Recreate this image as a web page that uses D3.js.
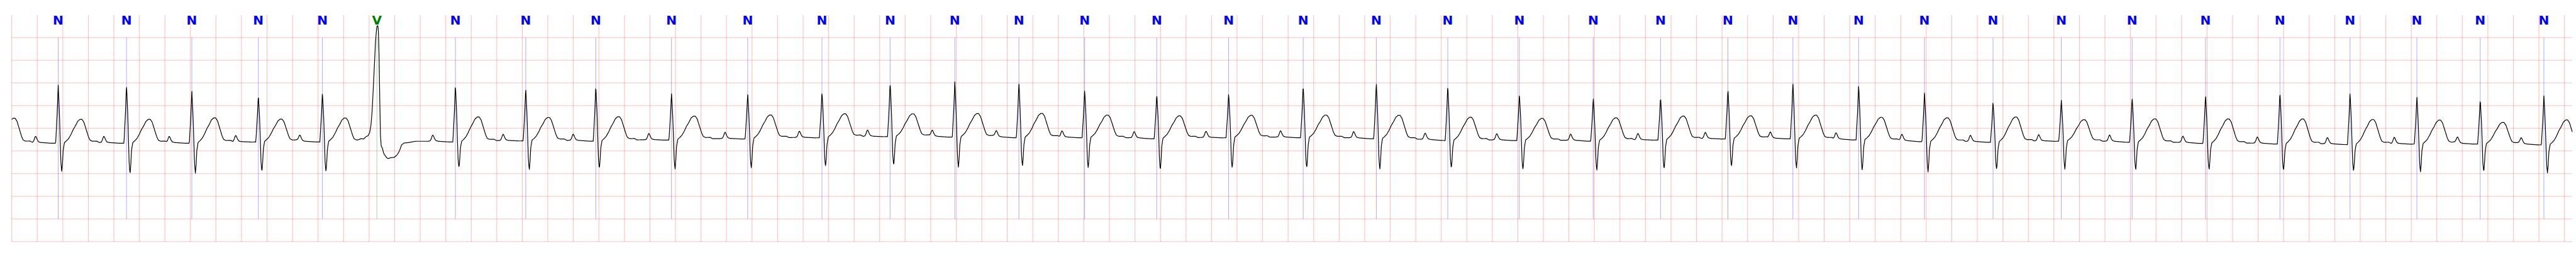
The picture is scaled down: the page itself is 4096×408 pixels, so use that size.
<!DOCTYPE html>
<html><head><meta charset="utf-8">
<script src="https://cdn.jsdelivr.net/npm/d3@7"></script>
<style>html,body{margin:0;padding:0;background:#fff;overflow:hidden}</style>
</head><body>
<svg id="chart" width="4096" height="408" viewBox="0 0 7522 750" preserveAspectRatio="none"></svg>
<script>
const duration = 20.061;          // seconds shown
const sampleRate = 360;           // Hz
const beatTimes = [-0.160, 0.364, 0.899, 1.411, 1.932, 2.434, 2.861, 3.476, 4.027, 4.576, 5.169, 5.766, 6.348,
  6.882, 7.389, 7.891, 8.406, 8.971, 9.534, 10.118, 10.691, 11.251, 11.812, 12.391, 12.918, 13.446,
  13.955, 14.470, 14.986, 15.523, 16.058, 16.613, 17.188, 17.771, 18.320, 18.844, 19.340, 19.839];
const beatLabels = ["", "N", "N", "N", "N", "N", "V", "N", "N", "N", "N", "N", "N",
  "N", "N", "N", "N", "N", "N", "N", "N", "N", "N", "N", "N", "N",
  "N", "N", "N", "N", "N", "N", "N", "N", "N", "N", "N", "N"];
const rAmp = [1.20, 1.276, 1.283, 1.134, 1.026, 1.081, 2.557, 1.256, 1.146, 1.214, 1.028, 0.992, 1.000,
  1.192, 1.214, 1.209, 1.041, 0.982, 0.975, 1.146, 1.229, 1.209, 1.025, 0.950, 0.940, 1.100,
  1.226, 1.207, 1.063, 0.889, 0.902, 0.982, 1.063, 1.136, 1.141, 1.038, 0.983, 1.075];
const sAmp = [-0.65, -0.644, -0.694, -0.680, -0.679, -0.679, 0, -0.590, -0.662, -0.625, -0.660, -0.668, -0.660,
  -0.654, -0.685, -0.642, -0.693, -0.706, -0.693, -0.693, -0.693, -0.630, -0.668, -0.667, -0.667, -0.635,
  -0.663, -0.692, -0.682, -0.623, -0.635, -0.630, -0.599, -0.605, -0.605, -0.633, -0.633, -0.642];
const tAmp = [0.535, 0.513, 0.513, 0.534, 0.488, 0.513, -0.383, 0.528, 0.503, 0.516, 0.504, 0.503, 0.504,
  0.491, 0.509, 0.521, 0.491, 0.484, 0.478, 0.491, 0.516, 0.499, 0.478, 0.491, 0.504, 0.493,
  0.516, 0.499, 0.517, 0.534, 0.466, 0.509, 0.529, 0.541, 0.534, 0.513, 0.470, 0.536];
const baseLevel = [0.190, 0.187, 0.187, 0.188, 0.216, 0.216, 0.216, 0.216, 0.240, 0.233, 0.258, 0.284, 0.309,
  0.334, 0.321, 0.309, 0.309, 0.284, 0.309, 0.309, 0.284, 0.246, 0.246, 0.233, 0.258, 0.284,
  0.284, 0.258, 0.220, 0.208, 0.233, 0.208, 0.182, 0.170, 0.157, 0.169, 0.169, 0.150];
const pAmp = 0.14;
// beat shapes: [ms from R, component, fraction of that component's amplitude]
const normalShape = [[-215,"0",0],[-199,"P",0.05],[-190,"P",0.35],[-183,"P",0.8],[-177,"P",1.0],[-171,"P",0.8],
  [-163,"P",0.4],[-153,"P",0.1],[-134,"0",0],[-54,"C",-0.015],[-20,"C",-0.015],[-8,"R",0.51],[0,"R",1],
  [10,"R",0.48],[16,"0",0],[21,"S",0.68],[28,"S",1],[34,"S",0.68],[39,"S",0.26],[49,"0",0],[64,"T",0.07],
  [82,"T",0.175],[100,"T",0.35],[118,"T",0.565],[135,"T",0.72],[153,"T",0.915],[171,"T",1.0],[186,"T",1.0],
  [201,"T",0.88],[213,"T",0.67],[225,"T",0.46],[237,"T",0.25],[249,"T",0.105],[267,"T",0.057],
  [303,"T",0.06],[322,"0",0]];
const ventricularShape = [[-148,"0",0],[-104,"R",0.0196],[-86,"R",0.039],[-68,"R",0.049],[-56,"R",0.078],
  [-47,"R",0.137],[-38,"R",0.25],[-30,"R",0.422],[-20,"R",0.649],[-11,"R",0.86],[-2,"R",0.978],
  [4,"R",1],[10,"R",0.986],[16,"R",0.794],[22,"R",0.372],[28,"R",0.047],[34,"T",0.31],[42,"T",0.36],
  [52,"T",0.68],[69,"T",0.88],[85,"T",1.0],[112,"T",0.94],[135,"T",0.93],[159,"T",0.78],[177,"T",0.55],
  [193,"T",0.21],[213,"T",0.10],[243,"T",0.08],[303,"0",0]];
const timeTicks = d3.range(0, 101).map(i => i * 0.2);
const voltTicks = [-2.0, -1.5, -1.0, -0.5, 0.0, 0.5, 1.0, 1.5, 2.0, 2.5];
const labelColors = {N: "#0000ff", V: "#008000"};

// ---- scales ----
const x = d3.scaleLinear().domain([0, duration]).range([34.3, 7511]);
const y = d3.scaleLinear().domain([-2, 3]).range([705.5, 43.8]);

// ---- build signal from beats ----
const baseScale = d3.scaleLinear().domain(beatTimes).range(baseLevel).clamp(true);
const beatFns = beatTimes.map((t0, i) => {
  const shape = beatLabels[i] === "V" ? ventricularShape : normalShape;
  const amp = {"0": 0, C: 1, P: pAmp, R: rAmp[i], S: sAmp[i], T: tAmp[i]};
  const f = d3.scaleLinear()
    .domain(shape.map(k => t0 + k[0] / 1000))
    .range(shape.map(k => k[2] * amp[k[1]]))
    .clamp(true);
  return {t0, f, lo: t0 + shape[0][0] / 1000, hi: t0 + shape[shape.length - 1][0] / 1000};
});
const nSamples = Math.round(duration * sampleRate);
const signal = d3.range(0, nSamples + 1).map(n => {
  const t = n / sampleRate;
  let v = baseScale(t);
  for (const b of beatFns) if (t >= b.lo && t <= b.hi) v += b.f(t);
  return {t, v};
});

// ---- draw ----
const svg = d3.select("#chart");
svg.append("rect").attr("width", 7522).attr("height", 750).attr("fill", "#fff");

const grid = svg.append("g").attr("stroke", "red").attr("stroke-opacity", 0.25).attr("stroke-width", 2);
grid.selectAll("line.v").data(timeTicks).join("line").attr("class", "v")
  .attr("x1", d => x(d)).attr("x2", d => x(d)).attr("y1", y(3)).attr("y2", y(-2));
grid.selectAll("line.h").data(voltTicks).join("line").attr("class", "h")
  .attr("x1", x(0)).attr("x2", x(duration)).attr("y1", d => y(d)).attr("y2", d => y(d));

const ann = beatTimes.map((t, i) => ({t, label: beatLabels[i]})).filter(d => d.label && d.t >= 0);
svg.append("g").selectAll("line").data(ann).join("line")
  .attr("x1", d => x(d.t)).attr("x2", d => x(d.t))
  .attr("y1", y(2.5)).attr("y2", y(-1.5))
  .attr("stroke", d => labelColors[d.label]).attr("stroke-opacity", 0.5).attr("stroke-width", 1.2);

svg.append("path").datum(signal)
  .attr("fill", "none").attr("stroke", "#000").attr("stroke-width", 2.2)
  .attr("stroke-linejoin", "round")
  .attr("d", d3.line().x(d => x(d.t)).y(d => y(d.v)));

svg.append("g").selectAll("text").data(ann).join("text")
  .attr("x", d => x(d.t)).attr("y", 71)
  .attr("text-anchor", "middle")
  .attr("font-family", "DejaVu Sans, sans-serif").attr("font-weight", "bold").attr("font-size", 37)
  .attr("fill", d => labelColors[d.label])
  .text(d => d.label);
</script>
</body></html>
